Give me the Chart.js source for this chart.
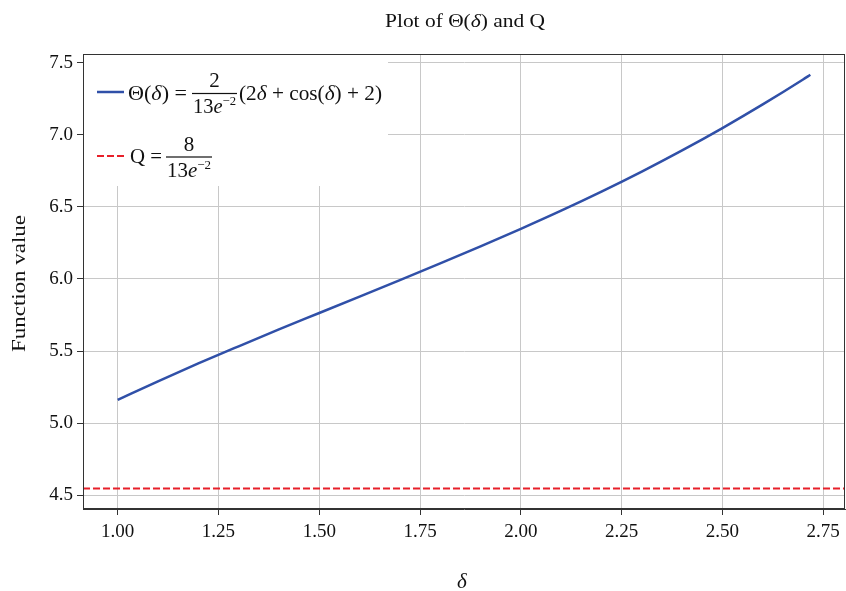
<!DOCTYPE html>
<html>
<head>
<meta charset="utf-8">
<script src="https://cdn.jsdelivr.net/npm/chart.js@4.4.1/dist/chart.umd.min.js"></script>
<style>
  html, body { margin: 0; padding: 0; background: #fff; }
  #wrap { width: 846px; height: 591px; }
</style>
</head>
<body>
<div id="wrap"><canvas id="chart" width="846" height="591"></canvas></div>
<script>
// values
const deltaValues = [1.0, 1.1, 1.2, 1.3, 1.4, 1.5, 1.6, 1.7, 1.8, 1.9, 2.0,
                     2.1, 2.2, 2.3, 2.4, 2.5, 2.6, 2.7, 2.718];
const thetaValues = [5.161, 5.290, 5.414, 5.533, 5.650, 5.764, 5.878, 5.992, 6.108, 6.226, 6.348,
                     6.474, 6.606, 6.745, 6.892, 7.047, 7.211, 7.384, 7.417];
const qValue = 4.547;
const xTicks = [1.00, 1.25, 1.50, 1.75, 2.00, 2.25, 2.50, 2.75];
const yTicks = [4.5, 5.0, 5.5, 6.0, 6.5, 7.0, 7.5];
const xLimits = [0.914, 2.804];
const yLimits = [4.404, 7.561];

const SERIF = '"Liberation Serif", "DejaVu Serif", serif';
const BLUE = '#3050a8';
const RED = '#e8202a';

// draws a row of text runs (left aligned), returns the x where it ended
function drawRuns(ctx, runs, x, y) {
  ctx.textAlign = 'left';
  runs.forEach(r => {
    ctx.font = (r.italic ? 'italic ' : '') + (r.size || 21) + 'px ' + SERIF;
    ctx.fillText(r.t, x, y + (r.dy || 0));
    x += ctx.measureText(r.t).width;
  });
  return x;
}
function runsWidth(ctx, runs) {
  let w = 0;
  runs.forEach(r => {
    ctx.font = (r.italic ? 'italic ' : '') + (r.size || 21) + 'px ' + SERIF;
    w += ctx.measureText(r.t).width;
  });
  return w;
}
// draw runs squeezed / stretched to a given width
function drawFit(ctx, runs, x, y, target) {
  const s = target / runsWidth(ctx, runs);
  ctx.save();
  ctx.translate(x, y);
  ctx.scale(s, 1);
  drawRuns(ctx, runs, 0, 0);
  ctx.restore();
}
// fraction num / 13e^-2 with its bar from x0 to x1 at barY
function drawFraction(ctx, num, x0, x1, barY) {
  ctx.fillRect(x0, barY - 0.6, x1 - x0, 1.2);
  const nw = runsWidth(ctx, num);
  drawRuns(ctx, num, (x0 + x1) / 2 - nw / 2, barY - 6.5);
  drawFit(ctx, [{t: '13'}, {t: 'e', italic: true}, {t: '\u22122', size: 13, dy: -8}], x0 + 1, barY + 19.5, x1 - x0 - 2);
}

const decorPlugin = {
  id: 'decor',
  afterDraw(chart) {
    const ctx = chart.ctx;
    const a = chart.chartArea;
    ctx.save();

    // legend box
    ctx.fillStyle = '#fff';
    ctx.fillRect(a.left + 1, a.top + 1, 304, 131);
    ctx.fillStyle = '#111';
    ctx.textBaseline = 'alphabetic';

    // series 1
    ctx.strokeStyle = BLUE;
    ctx.lineWidth = 2.5;
    ctx.beginPath(); ctx.moveTo(97, 92); ctx.lineTo(124, 92); ctx.stroke();
    drawFit(ctx, [{t: '\u0398('}, {t: '\u03b4', italic: true}, {t: ') ='}], 128, 99.5, 59);
    drawFraction(ctx, [{t: '2'}], 192, 237, 93.5);
    drawFit(ctx, [{t: '(2'}, {t: '\u03b4', italic: true}, {t: ' + cos('}, {t: '\u03b4', italic: true}, {t: ') + 2)'}], 239, 99.5, 143);

    // series 2
    ctx.strokeStyle = RED;
    ctx.lineWidth = 2;
    ctx.setLineDash([7, 3]);
    ctx.beginPath(); ctx.moveTo(97, 156); ctx.lineTo(125, 156); ctx.stroke();
    ctx.setLineDash([]);
    drawFit(ctx, [{t: 'Q ='}], 130, 163, 32);
    drawFraction(ctx, [{t: '8'}], 166, 212, 157);

    // frame
    ctx.strokeStyle = '#333';
    ctx.lineWidth = 1;
    ctx.strokeRect(a.left + 0.5, a.top + 0.5, a.right - a.left - 1, a.bottom - a.top - 1);

    // title and axis titles
    ctx.fillStyle = '#111';
    drawFit(ctx, [{t: 'Plot of \u0398(', size: 19}, {t: '\u03b4', italic: true, size: 19}, {t: ') and Q', size: 19}], 385, 27, 160);
    ctx.font = 'italic 21px ' + SERIF;
    ctx.textAlign = 'center';
    ctx.fillText('\u03b4', 462, 588);
    ctx.save();
    ctx.translate(25, 283.5);
    ctx.rotate(-Math.PI / 2);
    drawFit(ctx, [{t: 'Function value', size: 19}], -68.5, 0, 137);
    ctx.restore();
    ctx.restore();
  }
};

const ctx = document.getElementById('chart').getContext('2d');
new Chart(ctx, {
  type: 'line',
  data: {
    datasets: [
      {
        label: 'Theta',
        data: deltaValues.map((d, i) => ({x: d, y: thetaValues[i]})),
        borderColor: BLUE,
        borderWidth: 2.5,
        pointRadius: 0,
        cubicInterpolationMode: 'monotone',
        fill: false
      },
      {
        label: 'Q',
        data: xLimits.map(d => ({x: d, y: qValue})),
        borderColor: RED,
        borderWidth: 2,
        borderDash: [7, 3],
        pointRadius: 0,
        fill: false
      }
    ]
  },
  options: {
    responsive: false,
    animation: false,
    layout: { padding: { top: 54, right: 1, left: 0, bottom: 0 } },
    plugins: { legend: { display: false }, title: { display: false }, tooltip: { enabled: false } },
    scales: {
      x: {
        type: 'linear',
        min: xLimits[0],
        max: xLimits[1],
        afterBuildTicks: s => { s.ticks = xTicks.map(v => ({value: v})); },
        afterFit: s => { s.height = 82; },
        grid: { color: '#c8c8c8', lineWidth: 1, tickColor: '#333', tickLength: 6 },
        border: { display: true, color: '#333' },
        ticks: {
          autoSkip: false, maxRotation: 0, padding: 6, color: '#111',
          font: { family: SERIF, size: 19 },
          callback: v => v.toFixed(2)
        }
      },
      y: {
        min: yLimits[0],
        max: yLimits[1],
        afterBuildTicks: s => { s.ticks = yTicks.map(v => ({value: v})); },
        afterFit: s => { s.width = 83; },
        grid: { color: '#c8c8c8', lineWidth: 1, tickColor: '#333', tickLength: 6 },
        border: { display: true, color: '#333' },
        ticks: {
          autoSkip: false, padding: 4, color: '#111',
          font: { family: SERIF, size: 19 },
          callback: v => v.toFixed(1)
        }
      }
    }
  },
  plugins: [decorPlugin]
});
</script>
</body>
</html>
